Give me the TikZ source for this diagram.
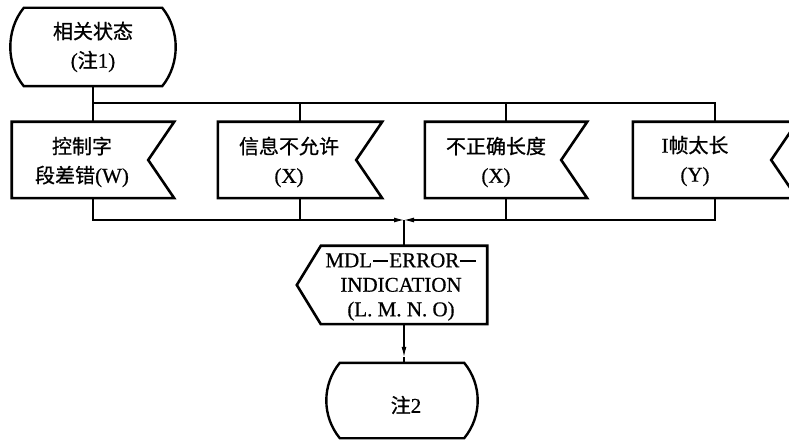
\documentclass[tikz,border=0pt]{standalone}
\usepackage{fontspec}
\setmainfont{Liberation Serif}[FakeBold=0.6]
\newfontfamily\cjk{Noto Sans CJK SC}[FakeBold=0.8]
\usetikzlibrary{arrows.meta,calc}
\newcommand\zh[1]{{\cjk\fontsize{20bp}{29bp}\selectfont #1}}
\newcommand\mydash{\kern0.05em\rule[0.27em]{0.72em}{0.07em}\kern0.05em}
\newcommand\notchbox[1]{\draw[boxline] (#1.north west) -- (#1.north east) -- ([xshift=-26bp]#1.east) -- (#1.south east) -- (#1.south west) -- cycle;}
\newcommand\termbox[1]{\draw[termline] (#1.north west) -- (#1.north east) .. controls ([shift={(18bp,-22bp)}]#1.north east) and ([shift={(18bp,22bp)}]#1.south east) .. (#1.south east) -- (#1.south west) .. controls ([shift={(-18bp,22bp)}]#1.south west) and ([shift={(-18bp,-22bp)}]#1.north west) .. (#1.north west) -- cycle;}
\tikzset{
 boxline/.style={line width=2.6bp, line join=miter},
 termline/.style={line width=2.4bp},
 conn/.style={line width=1.1bp},
 shapebox/.style={inner sep=0pt, minimum height=76bp},
 lbl/.style={align=center, font=\fontsize{21bp}{29bp}\selectfont, inner sep=0pt},
 arr/.style={-{Latex[length=10bp,width=5bp]}}
}
\begin{document}
\begin{tikzpicture}[x=1bp,y=-1bp]
\useasboundingbox (0,0) rectangle (789,441);
\clip (0,0) rectangle (789,441);
% shape nodes
\node[shapebox, minimum width=138bp, minimum height=78bp] (top) at (93,47) {};
\node[shapebox, minimum width=162bp] (b1) at (93,160) {};
\node[shapebox, minimum width=164bp] (b2) at (300,160) {};
\node[shapebox, minimum width=162bp] (b3) at (506,160) {};
\node[shapebox, minimum width=164bp] (b4) at (715,160) {};
\node[shapebox, minimum width=166bp, minimum height=78bp] (mdl) at (404,285) {};
\node[shapebox, minimum width=124bp, minimum height=75bp] (n2) at (402,400.5) {};
% outlines
\termbox{top}
\notchbox{b1}
\notchbox{b2}
\notchbox{b3}
\notchbox{b4}
\draw[boxline] (mdl.north west) -- (mdl.north east) -- (mdl.south east) -- (mdl.south west) -- ([xshift=-24bp]mdl.west) -- cycle;
\termbox{n2}
% texts
\node[lbl] (t0) at (93,47) {\zh{相关状态}\\(\zh{注}1)};
\node[lbl] (t1) at (82,162) {\zh{控制字}\\\zh{段差错}(W)};
\node[lbl] (t2) at (289,162) {\zh{信息不允许}\\(X)};
\node[lbl] (t3) at (496,162) {\zh{不正确长度}\\(X)};
\node[lbl] (t4) at (695,161) {I\zh{帧太长}\\(Y)};
\node[lbl, font=\fontsize{21bp}{24.5bp}\selectfont] (t5) at (401,287) {MDL\mydash ERROR\mydash\\INDICATION\\(L. M. N. O)};
\node[lbl] (t6) at (406,405) {\zh{注}2};
% connectors
\coordinate (j) at (93,103);
\draw[conn] (top.south) -- (b1.north);
\draw[conn] (j) -- (j -| b4.north) -- (b4.north);
\draw[conn] (j -| b2.north) -- (b2.north);
\draw[conn] (j -| b3.north) -- (b3.north);
\coordinate (m) at (404,220);
\draw[conn,arr] (b1.south) -- (b1.south |- m) -- (m);
\draw[conn,arr] (b4.south) -- (b4.south |- m) -- (m);
\draw[conn] (b2.south) -- (b2.south |- m);
\draw[conn] (b3.south) -- (b3.south |- m);
\draw[conn] (m) -- (mdl.north);
\coordinate (a) at ($(n2.north -| mdl.south)+(0,-6)$);
\draw[conn,arr] (mdl.south) -- (a);
\draw[conn] (a) -- (n2.north -| mdl.south);
\end{tikzpicture}
\end{document}
